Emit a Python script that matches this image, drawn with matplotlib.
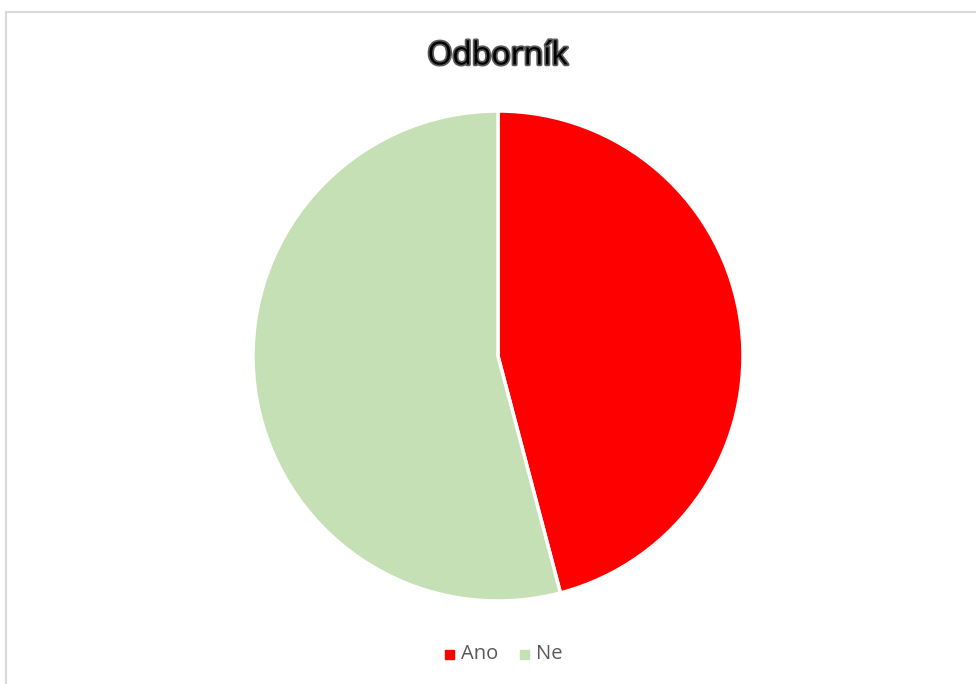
import matplotlib.pyplot as plt
import matplotlib.patheffects as pe
from matplotlib.patches import Rectangle

labels = ['Ano', 'Ne']
values = [45.9, 54.1]
colors = ['#ff0000', '#c5e0b4']

W, H = 976, 684
fig = plt.figure(figsize=(W / 100, H / 100), dpi=100)

# chart-area border (cut off on right/bottom like the screenshot)
fig.patches.append(Rectangle((6 / W, -0.05), 1.05, 1 - 12 / H + 0.05,
                             transform=fig.transFigure, fill=False,
                             edgecolor='#d9d9d9', linewidth=1.5))

cx, cy, r = 498, 356, 245
ax = fig.add_axes([(cx - r) / W, (H - cy - r) / H, 2 * r / W, 2 * r / H])
ax.pie(values, colors=colors, startangle=90, counterclock=False, radius=1,
       wedgeprops=dict(edgecolor='white', linewidth=2.5))
ax.set_xlim(-1, 1)
ax.set_ylim(-1, 1)
ax.set_aspect('equal')
ax.axis('off')

fig.text(498 / W, 1 - 56 / H, 'Odborník', ha='center', va='center',
         fontsize=23, family='Open Sans', color='black',
         path_effects=[pe.withStroke(linewidth=2.5, foreground='#5a5a5a')])

# legend
ly = 1 - 654 / H
fig.patches.append(Rectangle((445 / W, ly - 4.5 / H), 9 / W, 9 / H,
                             transform=fig.transFigure, color=colors[0]))
fig.text(461 / W, ly, labels[0], ha='left', va='center', fontsize=14.5,
         family='Open Sans', color='#595959')
fig.patches.append(Rectangle((520 / W, ly - 4.5 / H), 9 / W, 9 / H,
                             transform=fig.transFigure, color=colors[1]))
fig.text(536 / W, ly, labels[1], ha='left', va='center', fontsize=14.5,
         family='Open Sans', color='#595959')

fig.savefig('out.png', dpi=100)
